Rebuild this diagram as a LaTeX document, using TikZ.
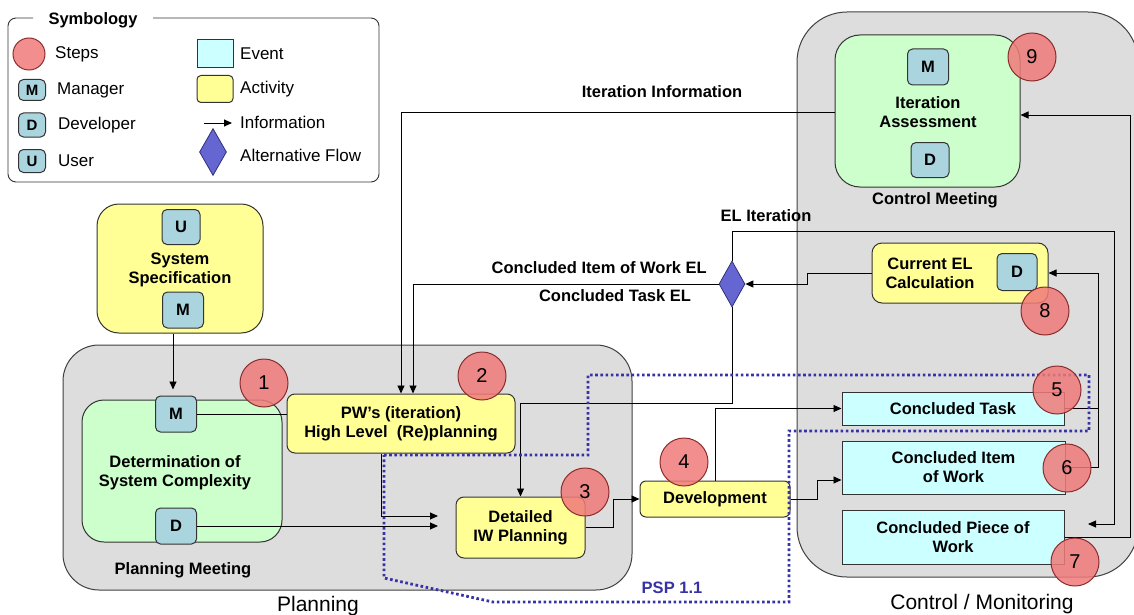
\documentclass[tikz,border=0pt]{standalone}
\usepackage{fontspec}
\setmainfont{Liberation Sans}
\usetikzlibrary{arrows.meta,shapes.geometric}

\definecolor{stepred}{RGB}{240,122,122}
\definecolor{stepline}{RGB}{140,45,45}
\definecolor{rolefill}{RGB}{170,212,222}
\definecolor{actfill}{RGB}{255,255,150}
\definecolor{eventfill}{RGB}{204,255,255}
\definecolor{meetfill}{RGB}{204,255,204}
\definecolor{areafill}{RGB}{221,221,221}
\definecolor{altfill}{RGB}{102,102,210}
\definecolor{altline}{RGB}{50,50,120}
\definecolor{pspblue}{RGB}{55,50,165}

\newcommand\labfont{\fontsize{16.5}{19}\selectfont\bfseries}
\newcommand\legfont{\fontsize{17}{19}\selectfont}

\tikzset{
  area/.style={draw=black!75, fill=areafill, line width=1pt},
  activity/.style={draw=black!80, fill=actfill, rounded corners=8pt, line width=1pt,
    inner sep=0pt, align=center, font=\labfont},
  meeting/.style={draw=black!80, fill=meetfill, rounded corners=22pt, line width=1pt, inner sep=0pt},
  event/.style={draw=black!80, fill=eventfill, line width=1pt, inner sep=0pt, align=center, font=\labfont},
  role/.style={draw=black!80, fill=rolefill, rounded corners=5pt, line width=1pt,
    minimum width=41pt, minimum height=36pt, inner sep=0pt, font=\labfont},
  stepmark/.style={circle, draw=stepline, fill=stepred, fill opacity=0.85, text opacity=1,
    line width=1pt, minimum size=48pt, inner sep=0pt, font=\fontsize{20}{20}\selectfont},
  altflow/.style={diamond, draw=altline, fill=altfill, line width=0.8pt,
    minimum width=26pt, minimum height=46pt, inner sep=0pt},
  flow/.style={-{Triangle[length=8pt,width=7pt]}, line width=0.9pt},
  conn/.style={line width=0.9pt},
  lbl/.style={font=\labfont, inner sep=0pt, align=center},
  legtext/.style={font=\legfont, inner sep=0pt, anchor=west},
  psp/.style={draw=pspblue, line width=2.8pt, dash pattern=on 2.6pt off 2.6pt},
}

\begin{document}
\begin{tikzpicture}[x=1pt,y=-1pt]
  \useasboundingbox (0,0) rectangle (1134,615);

  % symbology
  \draw[line width=0.9pt, draw=black!80, rounded corners=8pt]
    (153,18) -- (379,18) -- (379,182) -- (8,182) -- (8,18) -- (33,18);
  \node[lbl] (symb) at (93,20) {Symbology};
  \node[stepmark, minimum size=32pt] (legstep) at (29,54) {};
  \node[legtext] at (55,54) {Steps};
  \node[role, minimum width=27pt, minimum height=21pt, font=\fontsize{15}{15}\selectfont\bfseries] (legM) at (32,90) {M};
  \node[legtext] at (57,90) {Manager};
  \node[role, minimum width=27pt, minimum height=24pt, font=\fontsize{15}{15}\selectfont\bfseries] (legD) at (32,125) {D};
  \node[legtext] at (58,125) {Developer};
  \node[role, minimum width=27pt, minimum height=23pt, font=\fontsize{15}{15}\selectfont\bfseries] (legU) at (32,161) {U};
  \node[legtext] at (58,161) {User};
  \node[event, minimum width=36pt, minimum height=28pt] (legevent) at (215,54) {};
  \node[legtext] at (240,54) {Event};
  \node[activity, rounded corners=4pt, minimum width=36pt, minimum height=27pt] (legact) at (215,89) {};
  \node[legtext] at (240,89) {Activity};
  \coordinate (legarrow) at (204,123);
  \draw[flow] (legarrow) -- ++(28,0);
  \node[legtext] at (240,122) {Information};
  \node[altflow, minimum width=27pt, minimum height=47pt] (legalt) at (213,152) {};
  \node[legtext] at (240,155) {Alternative Flow};

  % areas
  \draw[area, rounded corners=36pt] (63,345) rectangle (632,590);
  \draw[area, rounded corners=50pt] (797,12) rectangle (1138,577);
  \node[font=\fontsize{21}{24}\selectfont] (planlbl) at (318,606) {Planning};
  \node[font=\fontsize{21}{24}\selectfont] (ctrllbl) at (982,604) {Control / Monitoring};

  % planning
  \node[activity, rounded corners=22pt, minimum width=166pt, minimum height=129pt] (sysspec) at (180,268.5) {};
  \node[role, minimum width=38pt, minimum height=35pt] (sysU) at (181,227) {U};
  \node[role] (sysM) at (183,310) {M};
  \node[lbl] (systext) at (180,270) {System\\Specification};
  \node[meeting, minimum width=200pt, minimum height=142pt] (detbox) at (182,471) {};
  \node[role] (detM) at (176,414) {M};
  \node[role] (detD) at (176,526) {D};
  \node[lbl] (dettext) at (175,473) {Determination of\\System Complexity};
  \node[lbl] (planmeet) at (183,570) {Planning Meeting};
  \node[activity, minimum width=228pt, minimum height=59pt] (pws) at (401,423.5) {PW's (iteration)\\High Level\ \ (Re)planning};
  \node[activity, minimum width=129pt, minimum height=61pt] (detailed) at (520.5,527.5) {Detailed\\IW Planning};
  \node[activity, rounded corners=6pt, minimum width=150pt, minimum height=36pt] (develop) at (715,499) {Development};

  % control / monitoring
  \node[meeting, rounded corners=25pt, minimum width=185pt, minimum height=152pt] (iterbox) at (927.5,111) {};
  \node[role] (iterM) at (928,67) {M};
  \node[role, minimum width=38pt, minimum height=35pt] (iterD) at (930,160) {D};
  \node[lbl] (itertext) at (928,112) {Iteration\\Assessment};
  \node[lbl] (ctrlmeet) at (935,200) {Control Meeting};
  \node[activity, rounded corners=10pt, minimum width=176pt, minimum height=60pt] (curEL) at (960,273) {};
  \node[role, minimum width=40pt, minimum height=37pt] (curD) at (1017,272) {D};
  \node[lbl] (curtext) at (930,273) {Current EL\\Calculation};
  \node[event, minimum width=222pt, minimum height=33pt] (ctask) at (953,408.5) {Concluded Task};
  \node[event, minimum width=223pt, minimum height=53pt] (citem) at (953.5,467.5) {Concluded Item\\of Work};
  \node[event, minimum width=222pt, minimum height=54pt] (cpiece) at (953,537) {Concluded Piece of\\Work};
  \node[altflow] (alt) at (732,284) {};

  % connectors
  \coordinate (detIn) at (438,526);
  \coordinate (pwsIn) at (438,516);
  \coordinate (pieceIn) at (1088,524);
  \draw[flow] ([xshift=-7pt]sysspec.south) -- ([xshift=-3pt,yshift=6pt]detM.north);
  \draw[conn] (detM.east) -- (detM.east -| pws.west);
  \draw[flow] (detD.east) -- (detIn);
  \draw[flow] ([xshift=-20pt]pws.south) |- (pwsIn);
  \draw[flow] (detailed.east) -- ++(28,0) |- (develop.west);
  \draw[flow] (develop.north) |- (ctask.west);
  \draw[flow] (develop.east) -- ++(27,0) |- ([yshift=-12.5pt]citem.west);
  \draw[conn] (ctask.east) -- ++(34,0);
  \draw[flow] (citem.east) -- ++(32.5,0) |- (curEL.east);
  \draw[flow] (curEL.west) -- ++(-64,0) |- (alt.east);
  \draw[flow] (alt.west) -| ([xshift=12pt]pws.north);
  \draw[flow] ([yshift=-1pt]iterbox.west) -| (pws.north);
  \draw[flow] (alt.north) |- (1114,231) |- (pieceIn);
  \draw[flow] (alt.south) -- ++(0,96) -| (detailed.north);
  \draw[flow] (cpiece.east) -- ++(66,0) |- ([yshift=-4pt]iterbox.east);

  % flow labels
  \node[lbl] (iterinfo) at (662,92) {Iteration Information};
  \node[lbl] (elit) at (766,216) {EL Iteration};
  \node[lbl, anchor=east] (ciwel) at (707,268) {Concluded Item of Work EL};
  \node[lbl] (ctel) at (615,296) {Concluded Task EL};

  % PSP 1.1
  \draw[psp] (384,455) -- (588,455) -- (588,375) -- (1089,375) -- (1089,431)
    -- (789,431) -- (789,602) -- (493,602) -- (384,578) -- cycle;
  \node[lbl, text=pspblue] (psplbl) at (672,588) {PSP 1.1};

  % steps
  \foreach \n/\x/\y in {1/264/383, 2/482/376, 3/585/492, 4/684/462, 5/1057/390,
                        6/1067/468, 7/1075/562, 8/1045/311, 9/1032/57}
    \node[stepmark] (step\n) at (\x,\y) {\n};
\end{tikzpicture}
\end{document}
